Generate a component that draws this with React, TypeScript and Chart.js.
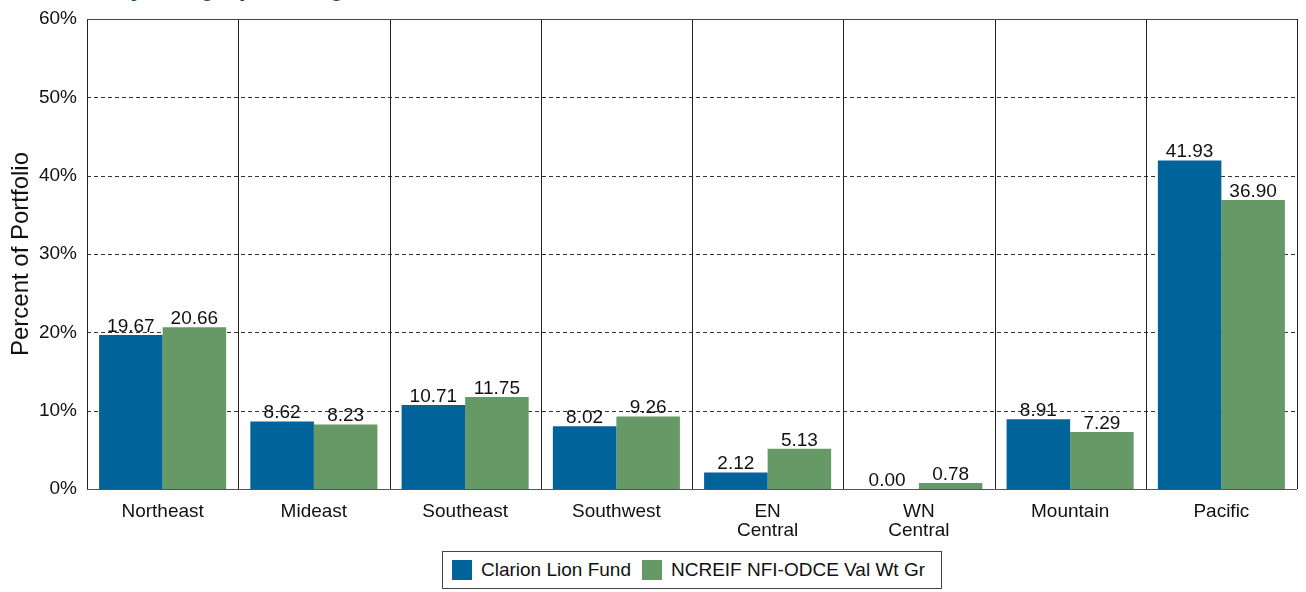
import React, { useEffect, useRef } from "react";
import { Chart, registerables } from "chart.js";

Chart.register(...registerables);

const categories: (string | string[])[] = [
  "Northeast",
  "Mideast",
  "Southeast",
  "Southwest",
  ["EN", "Central"],
  ["WN", "Central"],
  "Mountain",
  "Pacific",
];
const clarionValues = [19.67, 8.62, 10.71, 8.02, 2.12, 0.0, 8.91, 41.93];
const ncreifValues = [20.66, 8.23, 11.75, 9.26, 5.13, 0.78, 7.29, 36.9];
const seriesNames = ["Clarion Lion Fund", "NCREIF NFI-ODCE Val Wt Gr"];
const seriesColors = ["#00639a", "#669966"];
const yTicks = [0, 10, 20, 30, 40, 50, 60];
const titleText = "Diversification by Geographic Region as of June 30, 2024";
const yAxisTitle = "Percent of Portfolio";

const FONT = "'Liberation Sans', Arial, sans-serif";

const framePlugin = {
  id: "frame",
  beforeDatasetsDraw(chart: any) {
    const { ctx, chartArea, scales } = chart;
    const x = scales.x;
    const y = scales.y;
    ctx.save();
    ctx.strokeStyle = "#333";
    ctx.lineWidth = 1;
    ctx.setLineDash([4, 3]);
    yTicks.forEach((t) => {
      if (t === yTicks[0] || t === yTicks[yTicks.length - 1]) return;
      const py = Math.round(y.getPixelForValue(t)) + 0.5;
      ctx.beginPath();
      ctx.moveTo(chartArea.left, py);
      ctx.lineTo(chartArea.right, py);
      ctx.stroke();
    });
    ctx.setLineDash([]);
    ctx.strokeStyle = "#222";
    const n = categories.length;
    for (let i = 0; i <= n; i++) {
      let px: number;
      if (i === 0) px = x.left;
      else if (i === n) px = x.right;
      else px = (x.getPixelForValue(i - 1) + x.getPixelForValue(i)) / 2;
      px = Math.round(px) + 0.5;
      ctx.beginPath();
      ctx.moveTo(px, chartArea.top);
      ctx.lineTo(px, chartArea.bottom);
      ctx.stroke();
    }
    const top = Math.round(y.getPixelForValue(yTicks[yTicks.length - 1])) + 0.5;
    ctx.strokeStyle = "#444";
    ctx.beginPath();
    ctx.moveTo(chartArea.left, top);
    ctx.lineTo(chartArea.right, top);
    ctx.stroke();
    ctx.restore();
  },
  afterDatasetsDraw(chart: any) {
    const { ctx, chartArea, scales } = chart;
    const y = scales.y;
    ctx.save();
    const bottom = Math.round(y.getPixelForValue(0)) + 0.5;
    ctx.strokeStyle = "#555";
    ctx.lineWidth = 1;
    ctx.beginPath();
    ctx.moveTo(chartArea.left, bottom);
    ctx.lineTo(chartArea.right, bottom);
    ctx.stroke();
    ctx.fillStyle = "#111";
    ctx.font = `19px ${FONT}`;
    ctx.textAlign = "center";
    ctx.textBaseline = "bottom";
    chart.data.datasets.forEach((ds: any, di: number) => {
      const meta = chart.getDatasetMeta(di);
      meta.data.forEach((bar: any, i: number) => {
        const v = ds.data[i] as number;
        ctx.fillText(v.toFixed(2), bar.x, bar.y + 1);
      });
    });
    ctx.restore();
  },
};

export default function App() {
  const canvasRef = useRef<HTMLCanvasElement | null>(null);

  useEffect(() => {
    if (!canvasRef.current) return;
    const chart = new Chart(canvasRef.current, {
      type: "bar",
      data: {
        labels: categories,
        datasets: [
          {
            label: seriesNames[0],
            data: clarionValues,
            backgroundColor: seriesColors[0],
            borderWidth: 0,
            categoryPercentage: 0.84,
            barPercentage: 1.0,
          },
          {
            label: seriesNames[1],
            data: ncreifValues,
            backgroundColor: seriesColors[1],
            borderWidth: 0,
            categoryPercentage: 0.84,
            barPercentage: 1.0,
          },
        ],
      },
      options: {
        responsive: false,
        animation: false,
        devicePixelRatio: 1,
        layout: { padding: { top: 19, right: 9, bottom: 0, left: 0 } },
        plugins: {
          legend: { display: false },
          tooltip: { enabled: false },
          title: { display: false },
        },
        scales: {
          x: {
            grid: { display: false, drawTicks: false },
            border: { display: false },
            ticks: {
              color: "#111",
              font: { family: FONT, size: 19, lineHeight: 1.0 },
              padding: 13,
              maxRotation: 0,
              autoSkip: false,
            },
            afterFit: (s: any) => {
              s.height = 103;
              s.paddingLeft = 0;
              s.paddingRight = 0;
            },
          },
          y: {
            min: 0,
            max: 60,
            grid: { display: false, drawTicks: false },
            border: { display: true, color: "#333", width: 1 },
            ticks: {
              stepSize: 10,
              color: "#111",
              padding: 10,
              font: { family: FONT, size: 19 },
              callback: (v: any) => `${v}%`,
            },
            title: {
              display: true,
              text: yAxisTitle,
              color: "#111",
              font: { family: FONT, size: 24, lineHeight: 1.2 },
              padding: { top: 7, bottom: 0 },
            },
            afterFit: (s: any) => {
              s.width = 87;
              s.paddingTop = 0;
              s.paddingBottom = 0;
            },
          },
        },
      },
      plugins: [framePlugin],
    });
    return () => chart.destroy();
  }, []);

  return (
    <div
      style={{
        position: "fixed",
        left: 0,
        top: 0,
        width: 1306,
        height: 592,
        background: "#fff",
        overflow: "hidden",
        fontFamily: FONT,
      }}
    >
      <canvas ref={canvasRef} width={1306} height={592} style={{ position: "absolute", left: 0, top: 0 }} />
      <div
        style={{
          position: "absolute",
          left: -64,
          top: -25,
          fontSize: 25,
          lineHeight: "25px",
          fontWeight: "bold",
          color: "#0b5053",
          whiteSpace: "nowrap",
        }}
      >
        {titleText}
      </div>
      <div
        style={{
          position: "absolute",
          left: 442,
          top: 551,
          width: 500,
          height: 38,
          boxSizing: "border-box",
          border: "1px solid #444",
          background: "#fff",
          display: "flex",
          alignItems: "center",
          paddingLeft: 9,
          fontSize: 19,
          color: "#111",
          whiteSpace: "nowrap",
        }}
      >
        {seriesNames.map((name, i) => (
          <div key={name} style={{ display: "flex", alignItems: "center", marginRight: i === 0 ? 11 : 0 }}>
            <span
              style={{
                display: "inline-block",
                width: 20,
                height: 20,
                background: seriesColors[i],
                marginRight: 9,
              }}
            />
            <span>{name}</span>
          </div>
        ))}
      </div>
    </div>
  );
}
